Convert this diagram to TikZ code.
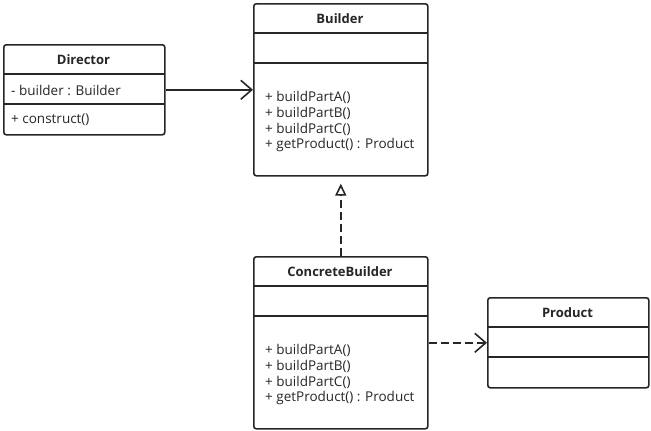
\documentclass[tikz,border=0pt]{standalone}
\usepackage{fontspec}
\setmainfont{Open Sans}
\usetikzlibrary{arrows.meta}
\definecolor{ink}{HTML}{262626}
\tikzset{
  cls/.style={draw=ink, line width=1.6pt, rounded corners=2.5pt, fill=white, inner sep=0pt, anchor=north west},
  divider/.style={draw=ink, line width=1.6pt},
  ttl/.style={font=\fontsize{13}{15}\selectfont\bfseries, text=ink},
  mem/.style={font=\fontsize{13.5}{15}\selectfont, text=ink, anchor=west, inner sep=0pt},
  conn/.style={draw=ink, line width=1.6pt},
  dsh/.style={dash pattern=on 8pt off 4pt},
  openv/.style={-{Straight Barb[length=11pt,width=19pt,line width=1.6pt]}},
  realize/.style={-{Triangle[open,length=12pt,width=11pt,line width=1.6pt]}}
}
\begin{document}
\begin{tikzpicture}[x=1pt,y=-1pt]
\useasboundingbox (0,0) rectangle (651,431);
% Director
\node[cls, minimum width=161pt, minimum height=90pt] (dir) at (3,44) {};
\draw[divider] (3,74) -- (164,74);
\draw[divider] (3,104) -- (164,104);
\node[ttl] (dirt) at (83.5,59.5) {Director};
\node[mem] (dira) at (11,90) {- builder : Builder};
\node[mem] (dirm) at (11,120) {+ construct()};
% Builder
\node[cls, minimum width=174pt, minimum height=172pt] (bld) at (253,3) {};
\draw[divider] (253,33) -- (427,33);
\draw[divider] (253,63) -- (427,63);
\node[ttl] (bldt) at (340,18.5) {Builder};
\node[mem] (b1) at (265,97) {+ buildPartA()};
\node[mem] (b2) at (265,113) {+ buildPartB()};
\node[mem] (b3) at (265,129) {+ buildPartC()};
\node[mem] (b4) at (265,144.5) {+ getProduct() : Product};
% ConcreteBuilder
\node[cls, minimum width=174pt, minimum height=172pt] (cb) at (253,256) {};
\draw[divider] (253,286) -- (427,286);
\draw[divider] (253,316) -- (427,316);
\node[ttl] (cbt) at (340,271.5) {ConcreteBuilder};
\node[mem] (c1) at (265,350) {+ buildPartA()};
\node[mem] (c2) at (265,366) {+ buildPartB()};
\node[mem] (c3) at (265,382) {+ buildPartC()};
\node[mem] (c4) at (265,397.5) {+ getProduct() : Product};
% Product
\node[cls, minimum width=161pt, minimum height=90pt] (prd) at (487,297) {};
\draw[divider] (487,327) -- (648,327);
\draw[divider] (487,357) -- (648,357);
\node[ttl] (prdt) at (567.5,312.5) {Product};
% connectors
\draw[conn, openv] (dir.east) -- (bld.west);
\draw[conn, dsh, realize, shorten >=7pt] (cb.north) -- (bld.south);
\draw[conn, dsh, openv] (cb.east) -- (prd.west);
\end{tikzpicture}
\end{document}
